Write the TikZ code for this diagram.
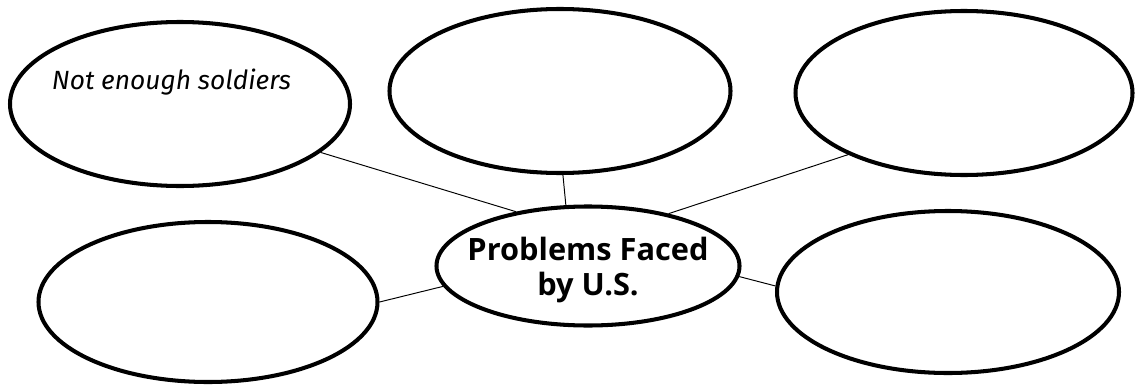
\documentclass[tikz,border=0pt]{standalone}
\usepackage{fontspec}
\usepackage{tikz}
\usetikzlibrary{shapes.geometric}
\setmainfont{Open Sans}
\newfontfamily\handfont{Fira Sans}
\tikzstyle{bubble}=[draw, ellipse, line width=2.3pt, inner sep=0pt]
\tikzstyle{spoke}=[line width=0.55pt]

\begin{document}
\begin{tikzpicture}
\useasboundingbox (0,0) rectangle (22.72,7.70);
\node[bubble, minimum width=6.80cm, minimum height=3.28cm] (tl) at (3.60,5.62) {};
\node[bubble, minimum width=6.82cm, minimum height=3.28cm] (tm) at (11.20,5.88) {};
\node[bubble, minimum width=6.74cm, minimum height=3.28cm] (tr) at (19.28,5.84) {};
\node[bubble, minimum width=6.78cm, minimum height=3.20cm] (bl) at (4.16,1.66) {};
\node[bubble, minimum width=6.84cm, minimum height=3.24cm] (br) at (18.96,1.86) {};
\node[bubble, minimum width=6.06cm, minimum height=2.38cm] (c) at (11.76,2.38) {};
\node[align=center, font=\fontsize{17.5}{20}\selectfont\bfseries] (ctext) at (11.76,2.30) {Problems Faced\\by U.S.};
\node[font=\handfont\itshape\fontsize{15}{18}\selectfont] (note) at (3.43,6.06) {Not enough soldiers};
\draw[spoke] (tl.-19.3) -- (c.143.3);
\draw[spoke] (tm.-88.6) -- (c.110);
\draw[spoke] (tr.-152.5) -- (c.33.4);
\draw[spoke] (bl.-0.3) -- (c.-172.4);
\draw[spoke] (br.178.7) -- (c.-4.5);
\end{tikzpicture}
\end{document}
